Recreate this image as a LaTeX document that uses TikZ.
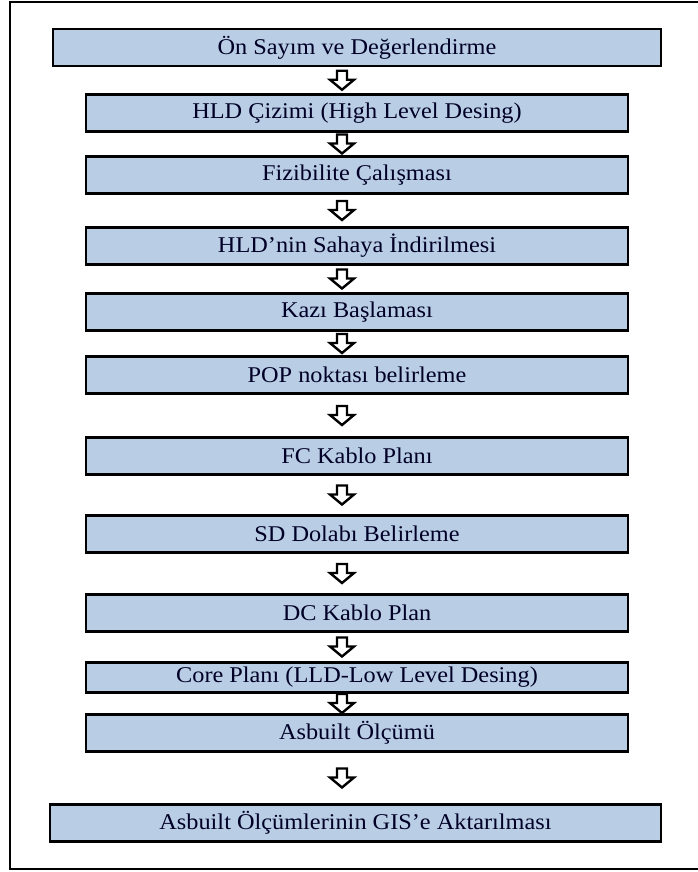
\documentclass[tikz,border=0pt]{standalone}
\usepackage{fontspec}
\setmainfont{Liberation Serif}[FakeStretch=1.08]
\usetikzlibrary{calc}
\definecolor{boxblue}{HTML}{B9CDE5}
\tikzset{
  stepbox/.style={draw=black, line width=2.6pt, fill=boxblue, inner sep=0pt,
    minimum height=37pt, font=\fontsize{22.5}{24}\selectfont, text=black!85!blue},
  widebox/.style={stepbox, minimum width=608pt},
  midbox/.style={stepbox, minimum width=542pt},
  hollow/.style={draw=black, line width=2.4pt, fill=white, line join=miter},
  frameline/.style={draw=black, line width=2pt}
}
\newcommand{\harrow}[2]{%
  \path let \p1=(#1.south), \p2=(#2.north), \n1={0.5*(\y1+\y2)} in
    coordinate (t) at (342pt,\n1+9.5pt);
  \draw[hollow] ($(t)+(-5pt,0)$) -- ($(t)+(5pt,0)$) -- ($(t)+(5pt,-9pt)$) --
    ($(t)+(12pt,-9pt)$) -- ($(t)+(0,-19pt)$) -- ($(t)+(-12pt,-9pt)$) --
    ($(t)+(-5pt,-9pt)$) -- cycle;
}
\begin{document}
\begin{tikzpicture}[x=1pt,y=-1pt]
\useasboundingbox (0,0) rectangle (698,872);
\draw[frameline] (705,2) -- (10,2) -- (10,869) -- (705,869);
\node[widebox] (b1) at (357,47.5) {Ön Sayım ve Değerlendirme};
\node[midbox] (b2) at (357,113) {HLD Çizimi (High Level Desing)};
\node[midbox] (b3) at (357,175) {Fizibilite Çalışması};
\node[midbox] (b4) at (357,246) {HLD’nin Sahaya İndirilmesi};
\node[midbox] (b5) at (357,312) {Kazı Başlaması};
\node[midbox] (b6) at (357,375) {POP noktası belirleme};
\node[midbox] (b7) at (357,456) {FC Kablo Planı};
\node[midbox] (b8) at (357,534) {SD Dolabı Belirleme};
\node[midbox] (b9) at (357,613) {DC Kablo Plan};
\node[midbox, minimum height=30pt] (b10) at (357,677.5) {Core Planı (LLD-Low Level Desing)};
\node[midbox] (b11) at (357,733) {Asbuilt Ölçümü};
\node[stepbox, minimum width=611pt] (b12) at (355.5,823) {Asbuilt Ölçümlerinin GIS’e Aktarılması};
\harrow{b1}{b2}
\harrow{b2}{b3}
\harrow{b3}{b4}
\harrow{b4}{b5}
\harrow{b5}{b6}
\harrow{b6}{b7}
\harrow{b7}{b8}
\harrow{b8}{b9}
\harrow{b9}{b10}
\harrow{b10}{b11}
\harrow{b11}{b12}
\end{tikzpicture}
\end{document}
